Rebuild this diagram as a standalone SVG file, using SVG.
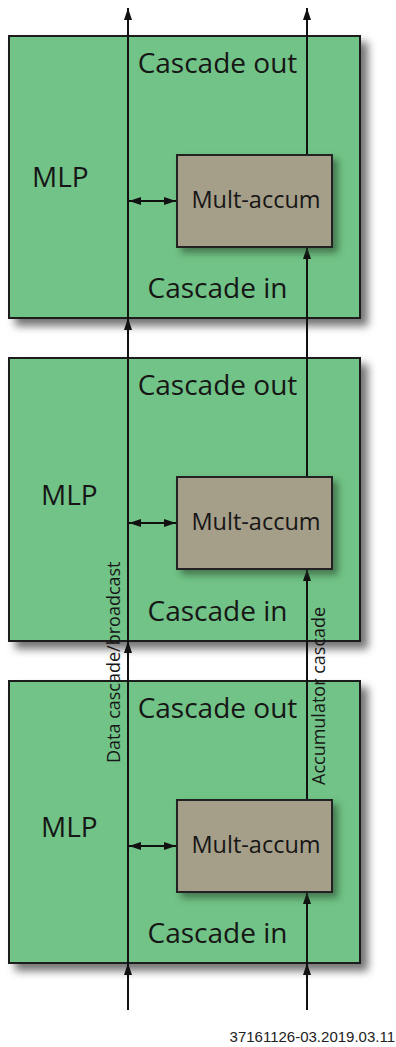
<svg xmlns="http://www.w3.org/2000/svg" width="396" height="1047" viewBox="0 0 396 1047">
<style>
.blk{fill:#72c387;stroke:#1e1e1e;stroke-width:2;filter:url(#sh)}
.ma{fill:#a59e89;stroke:#222;stroke-width:2;filter:url(#sh2)}
.t{font-family:"Open Sans","Noto Sans",sans-serif;fill:#161616}
.big{font-size:28px}
.mid{font-size:23.5px;text-anchor:middle}
.lab{font-size:18px}
.c{text-anchor:middle}
.ln{stroke:#111;stroke-width:2;fill:none}
.ar{marker-end:url(#ah)}
.dbl{marker-end:url(#ah);marker-start:url(#ah)}
.foot{font-family:"Liberation Sans",Arial,sans-serif;font-size:15px;fill:#222;text-anchor:end}
</style>
<defs>
<filter id="sh" x="-10%" y="-10%" width="130%" height="130%">
<feDropShadow dx="7" dy="7" stdDeviation="4" flood-color="#000" flood-opacity="0.55"/>
</filter>
<filter id="sh2" x="-10%" y="-10%" width="130%" height="140%">
<feDropShadow dx="5" dy="5" stdDeviation="3.5" flood-color="#1d3a22" flood-opacity="0.55"/>
</filter>
<marker id="ah" viewBox="0 0 12 8" refX="12" refY="4" markerWidth="12" markerHeight="8" markerUnits="userSpaceOnUse" orient="auto-start-reverse">
<path d="M0,0 L12,4 L0,8 z" fill="#111"/>
</marker>
</defs>

<g id="mlp1">
<rect class="blk" x="9" y="36" width="351" height="282"/>
<text class="t big" x="32" y="187">MLP</text>
<text class="t big c" x="217.5" y="73">Cascade out</text>
<text class="t big c" x="217.5" y="298">Cascade in</text>
</g>
<g id="mlp2">
<rect class="blk" x="9" y="358" width="351" height="283"/>
<text class="t big" x="41" y="505">MLP</text>
<text class="t big c" x="217.5" y="395">Cascade out</text>
<text class="t big c" x="217.5" y="621">Cascade in</text>
</g>
<g id="mlp3">
<rect class="blk" x="9" y="681" width="351" height="282"/>
<text class="t big" x="41" y="837">MLP</text>
<text class="t big c" x="217.5" y="718">Cascade out</text>
<text class="t big c" x="217.5" y="943">Cascade in</text>
</g>

<g id="connectors">
<line class="ln ar" x1="128" y1="1010" x2="128" y2="963"/>
<line class="ln ar" x1="128" y1="963" x2="128" y2="641"/>
<line class="ln ar" x1="128" y1="641" x2="128" y2="318"/>
<line class="ln ar" x1="128" y1="318" x2="128" y2="8"/>
<line class="ln ar" x1="307" y1="1010" x2="307" y2="963"/>
<line class="ln ar" x1="307" y1="963" x2="307" y2="892"/>
<line class="ln ar" x1="307" y1="800" x2="307" y2="569"/>
<line class="ln ar" x1="307" y1="477" x2="307" y2="247"/>
<line class="ln ar" x1="307" y1="155" x2="307" y2="8"/>
<line class="ln dbl" x1="129" y1="201" x2="176" y2="201"/>
<line class="ln dbl" x1="129" y1="523" x2="176" y2="523"/>
<line class="ln dbl" x1="129" y1="846" x2="176" y2="846"/>
</g>

<g id="multaccum1">
<rect class="ma" x="177" y="155" width="155" height="92"/>
<text class="t mid" x="256" y="208">Mult-accum</text>
</g>
<g id="multaccum2">
<rect class="ma" x="177" y="477" width="155" height="92"/>
<text class="t mid" x="256" y="530">Mult-accum</text>
</g>
<g id="multaccum3">
<rect class="ma" x="177" y="800" width="155" height="92"/>
<text class="t mid" x="256" y="853">Mult-accum</text>
</g>

<g id="labels">
<text class="t lab" transform="translate(120,763) rotate(-90)">Data cascade/broadcast</text>
<text class="t lab" transform="translate(325,785) rotate(-90)">Accumulator cascade</text>
<text class="foot" x="395" y="1042">37161126-03.2019.03.11</text>
</g>
</svg>
